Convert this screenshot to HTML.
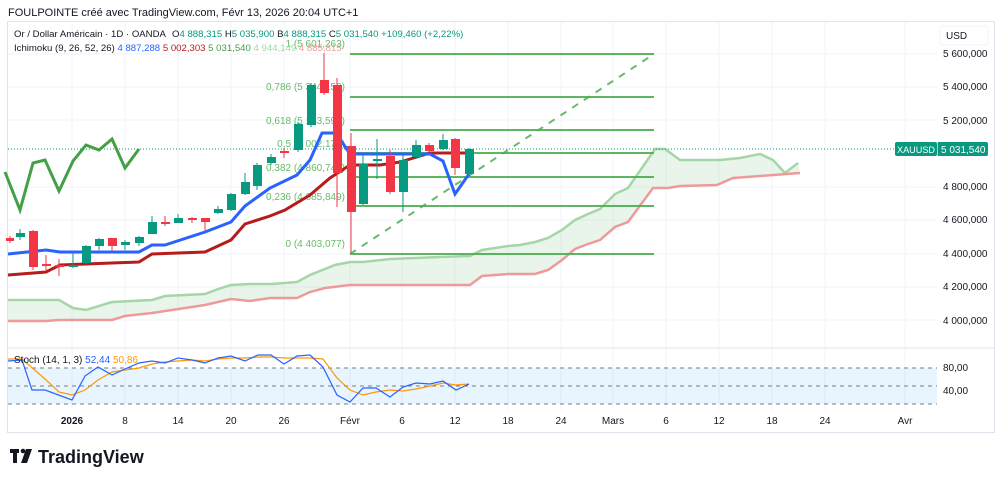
<!DOCTYPE html>
<html><head><meta charset="utf-8"><style>
body{margin:0;background:#fff;width:1000px;height:480px;overflow:hidden;font-family:"Liberation Sans",sans-serif}
</style></head><body>
<svg width="1000" height="480" xmlns="http://www.w3.org/2000/svg" font-family="Liberation Sans, sans-serif">
<rect x="0" y="0" width="1000" height="480" fill="#fff"/>
<rect x="7.5" y="21.5" width="987" height="411" fill="#fff" stroke="#e0e3eb"/>
<text x="8" y="16" font-size="11" fill="#131722">FOULPOINTE créé avec TradingView.com, Févr 13, 2026 20:04 UTC+1</text>
<g stroke="#f0f3fa" stroke-width="1">
<line x1="8" y1="54" x2="937" y2="54"/><line x1="8" y1="87" x2="937" y2="87"/><line x1="8" y1="120" x2="937" y2="120"/><line x1="8" y1="187" x2="937" y2="187"/><line x1="8" y1="220" x2="937" y2="220"/><line x1="8" y1="254" x2="937" y2="254"/><line x1="8" y1="287" x2="937" y2="287"/><line x1="8" y1="320" x2="937" y2="320"/>
<line x1="72" y1="22" x2="72" y2="410"/><line x1="125" y1="22" x2="125" y2="410"/><line x1="178" y1="22" x2="178" y2="410"/><line x1="231" y1="22" x2="231" y2="410"/><line x1="284" y1="22" x2="284" y2="410"/><line x1="350" y1="22" x2="350" y2="410"/><line x1="402" y1="22" x2="402" y2="410"/><line x1="455" y1="22" x2="455" y2="410"/><line x1="508" y1="22" x2="508" y2="410"/><line x1="561" y1="22" x2="561" y2="410"/><line x1="613" y1="22" x2="613" y2="410"/><line x1="666" y1="22" x2="666" y2="410"/><line x1="719" y1="22" x2="719" y2="410"/><line x1="772" y1="22" x2="772" y2="410"/><line x1="825" y1="22" x2="825" y2="410"/><line x1="905" y1="22" x2="905" y2="410"/>
</g>
<line x1="8" y1="348" x2="994" y2="348" stroke="#e0e3eb"/>
<polygon fill="#4caf50" fill-opacity="0.12" points="8,300 59,300 73,308 86,310 112,302 152,300 165,296 205,294 218,289 231,285 250,284 272,284 297,282 310,275 335,265 350,262 363,262 390,259 440,257 470,256 482,250 508,246 520,245 535,242 548,238 562,230 575,220 588,214 600,209 615,194 628,188 655,149 665,149 680,160 720,160 740,158 760,154 773,160 785,173 798,163 800,173 760,176 733,178 717,185 680,186 668,188 653,188 628,222 615,227 600,240 588,244 575,249 562,260 548,270 535,274 508,274 482,276 470,285 350,285 325,288 310,292 297,298 270,298 250,301 231,299 205,305 152,313 125,316 112,320 59,320 46,321 8,321"/>
<polyline fill="none" stroke="#a5d6a7" stroke-width="2.5" points="8,300 59,300 73,308 86,310 112,302 152,300 165,296 205,294 218,289 231,285 250,284 272,284 297,282 310,275 335,265 350,262 363,262 390,259 440,257 470,256 482,250 508,246 520,245 535,242 548,238 562,230 575,220 588,214 600,209 615,194 628,188 655,149 665,149 680,160 720,160 740,158 760,154 773,160 785,173 798,163"/>
<polyline fill="none" stroke="#ef9a9a" stroke-width="2.5" points="8,321 46,321 59,320 112,320 125,316 152,313 205,305 231,299 250,301 270,298 297,298 310,292 325,288 350,285 470,285 482,276 508,274 535,274 548,270 562,260 575,249 588,244 600,240 615,227 628,222 653,188 668,188 680,186 717,185 733,178 760,176 800,173"/>
<g stroke="#4caf50" stroke-width="2" opacity="0.9">
<line x1="350" y1="54" x2="654" y2="54"/><line x1="350" y1="97" x2="654" y2="97"/><line x1="350" y1="130" x2="654" y2="130"/><line x1="350" y1="153" x2="654" y2="153"/><line x1="350" y1="177" x2="654" y2="177"/><line x1="350" y1="206" x2="654" y2="206"/><line x1="350" y1="254" x2="654" y2="254"/>
</g>
<line x1="350" y1="254" x2="654" y2="54" stroke="#4caf50" stroke-width="2" stroke-dasharray="7,7" opacity="0.85"/>
<g font-size="10" fill="#66bb6a" text-anchor="end">
<text x="345" y="47">1 (5 601,263)</text><text x="345" y="90">0,786 (5 344,150)</text><text x="345" y="124">0,618 (5 143,595)</text><text x="345" y="147">0,5 (5 002,170)</text><text x="345" y="171">0,382 (4 860,745)</text><text x="345" y="200">0,236 (4 685,849)</text><text x="345" y="247">0 (4 403,077)</text>
</g>
<line x1="8" y1="149" x2="937" y2="149" stroke="#089981" stroke-dasharray="1,2"/>
<polyline fill="none" stroke="#43a047" stroke-width="3" points="5,172 20,210 33,163 45,160 59,191 73,161 86,145 99,150 112,139 125,168 139,149"/>
<polyline fill="none" stroke="#b71c1c" stroke-width="3" points="8,275 46,272 60,265 139,262 152,254 205,252 231,240 245,224 270,216 285,210 310,195 330,178 350,165 380,165 400,162 420,156 430,153 469,153"/>
<polyline fill="none" stroke="#2962ff" stroke-width="3" points="8,254 46,250 60,252 139,252 152,245 165,245 205,232 231,222 245,206 270,188 297,175 310,160 322,133 336,133 350,154 430,154 443,161 455,194 469,174"/>
<g stroke-width="1">
<line x1="10" y1="236" x2="10" y2="243" stroke="#f23645"/><rect x="6" y="238" width="8" height="3" fill="#f23645"/>
<line x1="20" y1="229" x2="20" y2="240" stroke="#089981"/><rect x="16" y="233" width="9" height="4" fill="#089981"/>
<line x1="33" y1="230" x2="33" y2="270" stroke="#f23645"/><rect x="29" y="231" width="9" height="36" fill="#f23645"/>
<line x1="46" y1="255" x2="46" y2="270" stroke="#f23645"/><rect x="42" y="264" width="9" height="2" fill="#f23645"/>
<line x1="59" y1="259" x2="59" y2="276" stroke="#f23645"/><rect x="55" y="265" width="9" height="2" fill="#f23645"/>
<line x1="73" y1="253" x2="73" y2="268" stroke="#089981"/><rect x="69" y="265" width="9" height="2" fill="#089981"/>
<line x1="86" y1="245" x2="86" y2="264" stroke="#089981"/><rect x="82" y="246" width="9" height="17" fill="#089981"/>
<line x1="99" y1="238" x2="99" y2="250" stroke="#089981"/><rect x="95" y="239" width="9" height="7" fill="#089981"/>
<line x1="112" y1="238" x2="112" y2="251" stroke="#f23645"/><rect x="108" y="238" width="9" height="8" fill="#f23645"/>
<line x1="125" y1="240" x2="125" y2="250" stroke="#089981"/><rect x="121" y="242" width="9" height="3" fill="#089981"/>
<line x1="139" y1="236" x2="139" y2="246" stroke="#089981"/><rect x="135" y="237" width="9" height="6" fill="#089981"/>
<line x1="152" y1="216" x2="152" y2="234" stroke="#089981"/><rect x="148" y="222" width="9" height="12" fill="#089981"/>
<line x1="165" y1="216" x2="165" y2="226" stroke="#f23645"/><rect x="161" y="222" width="9" height="2" fill="#f23645"/>
<line x1="178" y1="214" x2="178" y2="223" stroke="#089981"/><rect x="174" y="218" width="9" height="5" fill="#089981"/>
<line x1="192" y1="217" x2="192" y2="223" stroke="#f23645"/><rect x="188" y="218" width="9" height="2" fill="#f23645"/>
<line x1="205" y1="218" x2="205" y2="232" stroke="#f23645"/><rect x="201" y="218" width="9" height="4" fill="#f23645"/>
<line x1="218" y1="206" x2="218" y2="214" stroke="#089981"/><rect x="214" y="209" width="9" height="4" fill="#089981"/>
<line x1="231" y1="193" x2="231" y2="211" stroke="#089981"/><rect x="227" y="194" width="9" height="16" fill="#089981"/>
<line x1="245" y1="173" x2="245" y2="195" stroke="#089981"/><rect x="241" y="182" width="9" height="12" fill="#089981"/>
<line x1="257" y1="163" x2="257" y2="190" stroke="#089981"/><rect x="253" y="165" width="9" height="21" fill="#089981"/>
<line x1="271" y1="154" x2="271" y2="165" stroke="#089981"/><rect x="267" y="157" width="9" height="6" fill="#089981"/>
<line x1="284" y1="148" x2="284" y2="158" stroke="#f23645"/><rect x="280" y="151" width="9" height="2" fill="#f23645"/>
<line x1="298" y1="122" x2="298" y2="152" stroke="#089981"/><rect x="294" y="124" width="9" height="26" fill="#089981"/>
<line x1="311" y1="83" x2="311" y2="127" stroke="#089981"/><rect x="307" y="85" width="9" height="40" fill="#089981"/>
<line x1="324" y1="53" x2="324" y2="95" stroke="#f23645"/><rect x="320" y="80" width="9" height="13" fill="#f23645"/>
<line x1="337" y1="78" x2="337" y2="207" stroke="#f23645"/><rect x="333" y="85" width="9" height="88" fill="#f23645"/>
<line x1="351" y1="133" x2="351" y2="253" stroke="#f23645"/><rect x="347" y="146" width="9" height="66" fill="#f23645"/>
<line x1="363" y1="155" x2="363" y2="205" stroke="#089981"/><rect x="359" y="164" width="9" height="40" fill="#089981"/>
<line x1="377" y1="139" x2="377" y2="179" stroke="#089981"/><rect x="373" y="159" width="9" height="2" fill="#089981"/>
<line x1="390" y1="150" x2="390" y2="194" stroke="#f23645"/><rect x="386" y="156" width="9" height="36" fill="#f23645"/>
<line x1="403" y1="155" x2="403" y2="212" stroke="#089981"/><rect x="399" y="160" width="9" height="32" fill="#089981"/>
<line x1="416" y1="140" x2="416" y2="159" stroke="#089981"/><rect x="412" y="145" width="9" height="12" fill="#089981"/>
<line x1="429" y1="143" x2="429" y2="152" stroke="#f23645"/><rect x="425" y="145" width="9" height="6" fill="#f23645"/>
<line x1="443" y1="134" x2="443" y2="150" stroke="#089981"/><rect x="439" y="140" width="9" height="9" fill="#089981"/>
<line x1="455" y1="138" x2="455" y2="175" stroke="#f23645"/><rect x="451" y="139" width="9" height="29" fill="#f23645"/>
<line x1="469" y1="148" x2="469" y2="174" stroke="#089981"/><rect x="465" y="149" width="9" height="25" fill="#089981"/>
</g>
<g font-size="9.6">
<text x="14" y="37" fill="#131722">Or / Dollar Américain · 1D · OANDA</text>
<text x="172" y="37" fill="#131722">O<tspan fill="#089981">4 888,315</tspan> H<tspan fill="#089981">5 035,900</tspan> B<tspan fill="#089981">4 888,315</tspan> C<tspan fill="#089981">5 031,540</tspan> <tspan fill="#089981">+109,460 (+2,22%)</tspan></text>
<text x="14" y="51" fill="#131722">Ichimoku (9, 26, 52, 26) <tspan fill="#2962ff">4 887,288</tspan> <tspan fill="#b71c1c">5 002,303</tspan> <tspan fill="#43a047">5 031,540</tspan> <tspan fill="#a5d6a7">4 944,149</tspan> <tspan fill="#ef9a9a">4 885,815</tspan></text>
</g>
<rect x="8" y="368" width="929" height="36" fill="#2196f3" fill-opacity="0.1"/>
<g stroke="#787b86" stroke-dasharray="4,4" stroke-width="1"><line x1="8" y1="368" x2="937" y2="368"/><line x1="8" y1="386" x2="937" y2="386"/><line x1="8" y1="404" x2="937" y2="404"/></g>
<polyline fill="none" stroke="#ff9800" stroke-width="1.2" points="8,359 22,359 45,379 59,392 72,395 85,390 98,380 112,372 125,370 139,368 152,364 165,362 178,361 192,360 205,361 218,359 231,358 245,358 258,357 271,357 284,358 297,358 310,358 323,359 337,378 350,390 363,395 376,392 390,390 403,391 416,389 430,386 443,383 456,385 469,384"/>
<polyline fill="none" stroke="#2962ff" stroke-width="1.2" points="8,361 22,360 32,390 45,390 72,400 85,376 98,367 112,375 125,369 139,363 152,361 165,363 178,358 192,360 205,363 218,358 231,356 245,361 258,355 271,355 284,364 297,356 310,355 323,367 337,395 350,402 363,388 376,388 390,397 403,387 416,383 430,384 443,381 456,390 469,384"/>
<text x="14" y="363" font-size="10" fill="#131722">Stoch (14, 1, 3) <tspan fill="#2962ff">52,44</tspan> <tspan fill="#ff9800">50,86</tspan></text>
<g font-size="10" fill="#131722">
<text x="943" y="57">5 600,000</text><text x="943" y="90">5 400,000</text><text x="943" y="124">5 200,000</text><text x="943" y="190">4 800,000</text><text x="943" y="223">4 600,000</text><text x="943" y="257">4 400,000</text><text x="943" y="290">4 200,000</text><text x="943" y="324">4 000,000</text>
<text x="943" y="371">80,00</text><text x="943" y="394">40,00</text>
</g>
<rect x="940" y="26" width="48" height="19" rx="2" fill="#fff" stroke="#f0f3fa"/>
<text x="946" y="39" font-size="10" fill="#131722">USD</text>
<rect x="895" y="142" width="42" height="14" rx="2" fill="#089981"/><text x="897" y="153" font-size="9" fill="#fff" textLength="38" lengthAdjust="spacingAndGlyphs">XAUUSD</text>
<rect x="937" y="142" width="51" height="14" rx="2" fill="#089981"/><line x1="937.5" y1="143" x2="937.5" y2="155" stroke="#fff" stroke-opacity="0.6"/><text x="941" y="153" font-size="10" fill="#fff">5 031,540</text>
<g font-size="10" fill="#131722" text-anchor="middle">
<text x="72" y="424" font-weight="bold">2026</text><text x="125" y="424">8</text><text x="178" y="424">14</text><text x="231" y="424">20</text><text x="284" y="424">26</text><text x="350" y="424">Févr</text><text x="402" y="424">6</text><text x="455" y="424">12</text><text x="508" y="424">18</text><text x="561" y="424">24</text><text x="613" y="424">Mars</text><text x="666" y="424">6</text><text x="719" y="424">12</text><text x="772" y="424">18</text><text x="825" y="424">24</text><text x="905" y="424">Avr</text>
</g>
<g fill="#131722"><rect x="10" y="449" width="9" height="4"/><rect x="13" y="449" width="4" height="14"/><circle cx="23" cy="451" r="2.3"/><polygon points="26,449 32,449 27,463 21,463"/></g>
<text x="38" y="463" font-size="18" font-weight="bold" fill="#131722">TradingView</text>
</svg>
</body></html>
